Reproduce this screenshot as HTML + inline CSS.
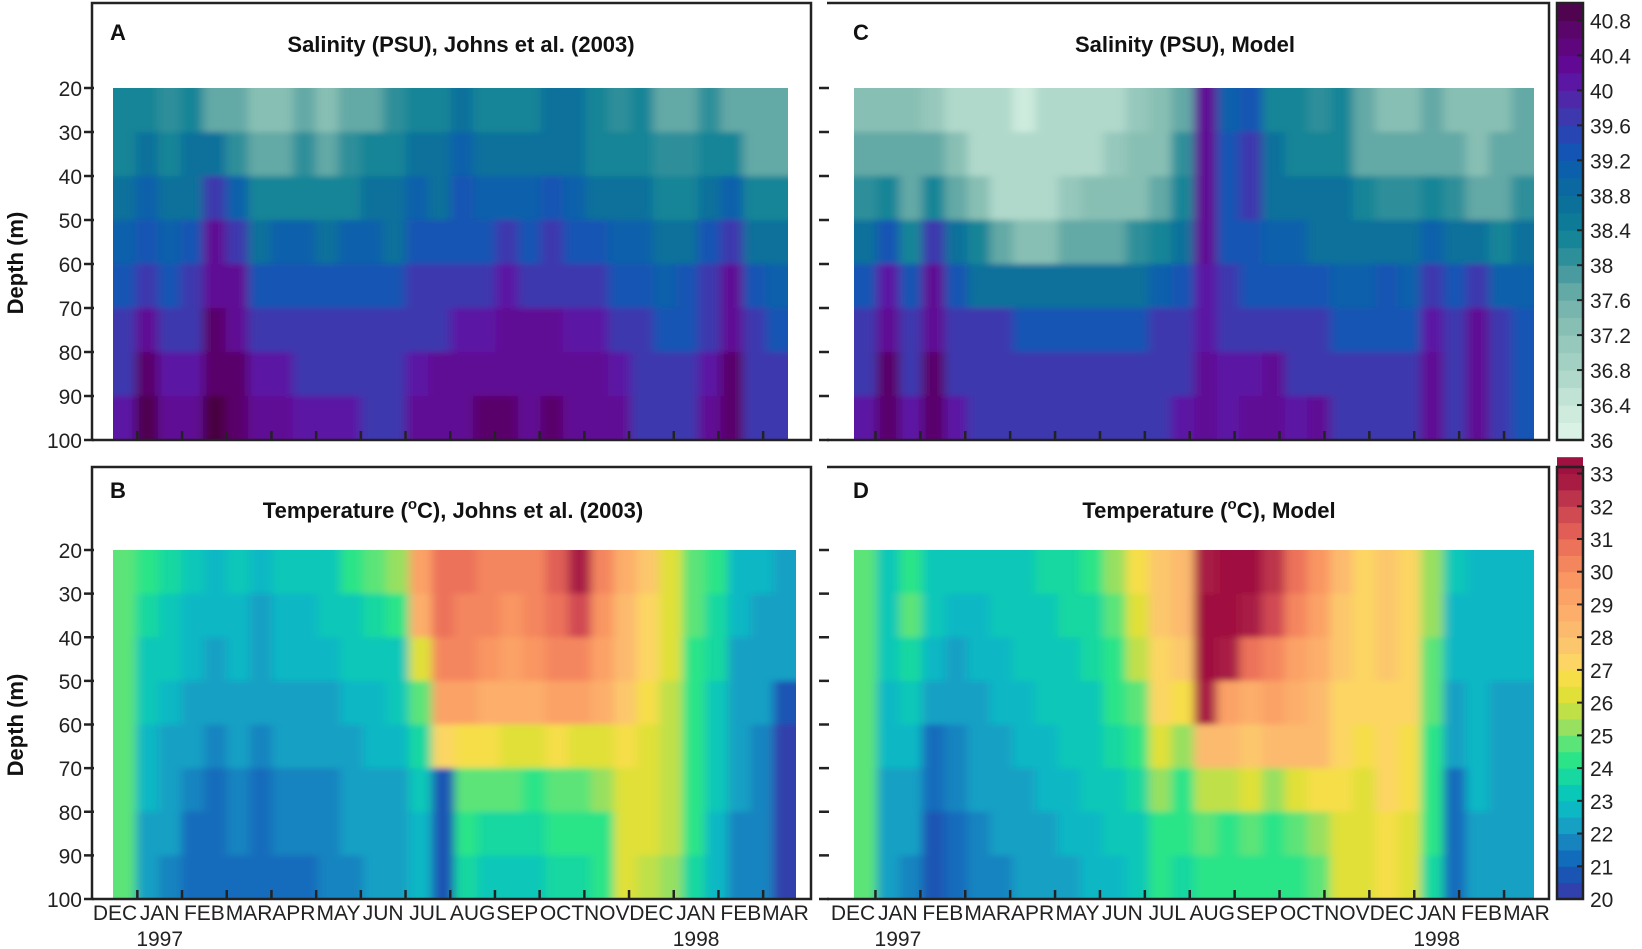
<!DOCTYPE html>
<html><head><meta charset="utf-8">
<style>
body{margin:0;background:#fff;}
svg{display:block;font-family:"Liberation Sans",sans-serif;}
.tk{font-size:21px;fill:#222;}
.ttl{font-size:22px;font-weight:bold;fill:#111;}
</style></head>
<body>
<svg id="fig" width="1642" height="949" viewBox="0 0 1642 949">
<defs>
<filter id="bl" x="-5%" y="-5%" width="110%" height="110%"><feGaussianBlur stdDeviation="5 3"/></filter>
<clipPath id="cA"><rect x="113" y="88" width="675" height="352"/></clipPath>
<clipPath id="cC"><rect x="854" y="88" width="680" height="352"/></clipPath>
<clipPath id="cB"><rect x="113" y="550" width="683" height="349"/></clipPath>
<clipPath id="cD"><rect x="854" y="550" width="680" height="349"/></clipPath>
</defs>
</svg>
<script>
const depths=[25,35,45,55,65,75,85,95];
const months=["DEC","JAN","FEB","MAR","APR","MAY","JUN","JUL","AUG","SEP","OCT","NOV","DEC","JAN","FEB","MAR"];
const depthTicks=[20,30,40,50,60,70,80,90,100];
const salTicks=[36,36.4,36.8,37.2,37.6,38,38.4,38.8,39.2,39.6,40,40.4,40.8];
const tempTicks=[20,21,22,23,24,25,26,27,28,29,30,31,32,33];
const salA=[
[38.2,38.4,38.0,38.2,37.8,37.6,37.4,37.4,37.6,37.4,37.6,37.8,38.0,38.4,38.2,38.6,38.4,38.4,38.4,38.6,38.6,38.2,38.0,38.2,37.8,37.8,38.0,37.8,37.6,37.6],
[38.4,38.8,38.2,38.6,38.8,38.0,37.8,37.8,38.0,37.8,38.0,38.2,38.2,38.8,38.6,39.0,38.6,38.6,38.6,38.8,38.6,38.4,38.2,38.4,38.0,38.0,38.2,38.4,37.8,37.8],
[38.6,39.0,38.8,38.8,39.6,39.0,38.2,38.4,38.4,38.4,38.4,38.6,38.6,39.0,38.8,39.2,39.0,39.0,39.0,39.2,39.0,38.8,38.6,38.8,38.4,38.4,38.8,39.0,38.4,38.2],
[39.0,39.4,39.0,39.2,40.2,39.6,38.8,39.0,39.0,38.8,39.0,39.0,38.8,39.2,39.2,39.4,39.4,39.6,39.4,39.6,39.4,39.2,39.0,39.0,38.8,38.8,39.2,39.8,38.8,38.6],
[39.4,39.8,39.4,39.6,40.4,40.2,39.4,39.4,39.4,39.2,39.4,39.4,39.4,39.6,39.6,39.8,39.8,40.0,39.8,39.8,39.6,39.6,39.4,39.4,39.0,39.2,39.6,40.2,39.2,39.0],
[39.6,40.2,39.8,39.8,40.6,40.4,39.8,39.8,39.6,39.6,39.6,39.6,39.6,39.8,39.8,40.0,40.0,40.2,40.2,40.2,40.0,40.0,39.8,39.6,39.4,39.4,39.8,40.4,39.6,39.4],
[39.8,40.6,40.0,40.0,40.8,40.6,40.0,40.0,39.8,39.8,39.8,39.6,39.6,40.0,40.2,40.2,40.4,40.4,40.4,40.4,40.4,40.2,40.0,39.8,39.6,39.6,40.0,40.6,39.8,39.6],
[40.0,40.9,40.2,40.2,41.0,40.8,40.2,40.2,40.0,40.0,40.0,39.8,39.8,40.2,40.2,40.4,40.6,40.6,40.4,40.6,40.4,40.4,40.2,39.8,39.8,39.8,40.2,40.8,39.8,39.6]];
const salC=[
[37.4,37.2,37.4,37.0,36.8,36.6,36.6,36.4,36.6,36.6,36.6,36.8,37.0,37.2,37.8,40.2,39.0,39.4,38.4,38.2,38.0,38.2,37.6,37.4,37.4,37.6,37.4,37.2,37.4,37.6],
[37.6,37.6,37.6,37.6,37.2,36.8,36.6,36.6,36.6,36.8,36.8,37.0,37.2,37.4,38.0,40.2,39.2,39.8,38.6,38.4,38.2,38.4,37.8,37.6,37.6,37.8,37.6,37.4,37.6,37.8],
[38.0,38.2,37.8,38.4,37.8,37.2,36.8,36.8,36.8,37.0,37.2,37.2,37.4,37.8,38.4,40.2,39.4,39.6,38.8,38.6,38.6,38.6,38.2,38.0,38.0,38.4,38.0,37.8,37.8,38.0],
[38.6,39.2,38.4,39.6,38.6,38.2,37.6,37.4,37.4,37.6,37.8,37.8,38.0,38.4,38.8,40.2,39.4,39.4,39.0,39.0,38.8,38.8,38.6,38.6,38.6,39.0,38.6,38.6,38.4,38.6],
[39.2,40.0,39.2,40.2,39.4,38.8,38.6,38.6,38.6,38.6,38.6,38.6,38.8,39.0,39.2,40.0,39.6,39.4,39.2,39.2,39.2,39.0,39.0,39.2,39.0,39.6,39.4,39.6,39.0,39.0],
[39.6,40.4,39.6,40.4,39.8,39.6,39.6,39.4,39.4,39.4,39.4,39.4,39.4,39.6,39.8,40.0,39.8,39.8,39.6,39.6,39.6,39.4,39.4,39.4,39.4,40.0,39.6,40.2,39.6,39.4],
[39.8,40.6,39.8,40.6,39.8,39.8,39.6,39.6,39.6,39.6,39.6,39.6,39.6,39.8,39.8,40.2,40.0,40.0,40.2,39.8,39.8,39.8,39.6,39.6,39.6,40.2,39.6,40.4,39.6,39.4],
[40.0,40.6,40.0,40.8,40.0,39.8,39.6,39.8,39.6,39.6,39.6,39.8,39.6,39.8,40.0,40.2,40.0,40.2,40.2,40.0,40.2,39.8,39.8,39.6,39.8,40.2,39.6,40.4,39.6,39.4]];
const tempB=[
[24.5,24.0,23.5,23.0,22.8,23.0,22.6,23.0,23.0,23.2,24.0,24.6,25.0,29.0,30.8,30.5,30.2,30.0,30.4,31.0,32.5,30.0,28.5,27.5,26.2,24.5,24.0,22.8,22.6,22.4],
[24.5,23.8,23.2,22.8,22.6,22.8,22.4,22.8,22.8,23.0,23.4,23.6,24.0,28.5,30.6,30.4,30.0,29.8,30.0,30.6,31.5,29.5,28.2,27.4,26.2,24.5,23.8,22.6,22.4,22.2],
[24.5,23.4,23.0,22.6,22.4,22.6,22.2,22.6,22.6,22.8,23.0,23.2,23.4,26.0,30.0,30.0,29.6,29.4,29.6,30.0,30.2,29.0,28.0,27.0,26.0,24.4,23.6,22.4,22.2,22.0],
[24.5,23.0,22.6,22.2,22.0,22.2,22.0,22.2,22.4,22.4,22.6,22.8,23.0,24.5,29.0,29.2,28.8,28.6,28.8,29.0,29.0,28.6,27.6,26.8,25.8,24.2,23.4,22.2,22.0,20.5],
[24.5,22.8,22.4,22.0,21.8,22.0,21.8,22.0,22.2,22.0,22.4,22.6,22.6,23.6,27.0,26.5,26.8,26.4,26.2,26.6,26.4,26.4,26.8,26.4,25.8,24.2,23.2,22.0,21.8,20.3],
[24.5,22.6,22.2,21.6,21.4,21.8,21.4,21.8,21.8,21.8,22.2,22.4,22.4,23.2,20.8,24.8,24.6,24.6,24.2,24.8,24.6,25.0,26.4,26.2,25.6,24.0,23.0,22.0,21.8,20.2],
[24.5,22.4,22.0,21.4,21.2,21.6,21.2,21.6,21.6,21.6,22.0,22.2,22.4,22.8,20.6,24.0,23.8,23.8,23.6,24.2,24.0,24.4,26.2,26.0,25.5,24.0,22.8,21.8,21.8,20.2],
[24.5,22.2,21.8,21.2,21.0,21.4,21.0,21.4,21.4,21.6,21.8,22.0,22.2,22.6,20.5,23.6,23.4,23.4,23.2,23.8,23.6,24.0,26.0,25.8,25.4,23.8,22.6,21.8,21.6,20.2]];
const tempD=[
[24.8,23.4,24.2,23.2,23.0,23.0,23.2,23.4,23.6,23.8,24.0,25.2,26.5,27.6,28.0,32.5,33.2,33.2,32.0,30.5,29.5,28.0,27.4,27.8,27.2,25.0,23.0,22.6,22.6,22.6],
[24.8,23.2,24.6,23.0,22.8,22.8,23.0,23.2,23.4,23.6,23.8,24.8,26.0,27.8,28.0,33.0,33.2,32.8,31.5,30.0,29.2,27.8,27.4,27.8,27.2,25.0,22.8,22.6,22.6,22.6],
[24.8,23.0,23.8,22.6,22.4,22.6,22.8,23.0,23.2,23.4,23.6,24.4,25.5,27.4,27.6,33.0,32.5,30.6,30.4,29.4,28.8,27.6,27.2,27.6,27.0,24.8,22.6,22.6,22.6,22.6],
[24.8,22.8,23.2,22.2,22.0,22.4,22.6,22.8,23.0,23.2,23.4,24.0,24.8,27.0,26.8,32.8,29.4,28.8,29.0,28.6,28.4,27.4,27.0,27.4,27.0,24.6,22.4,22.6,22.4,22.4],
[24.8,22.6,22.6,21.4,21.8,22.2,22.4,22.6,22.8,23.0,23.2,23.6,24.2,26.4,25.4,28.4,28.0,27.8,28.0,28.0,28.0,27.2,26.8,27.2,26.8,24.4,22.0,22.6,22.4,22.4],
[24.8,22.4,22.2,21.0,21.6,22.0,22.2,22.4,22.6,22.8,23.0,23.4,23.8,25.2,24.4,25.6,25.8,26.0,25.4,26.2,26.6,26.8,26.4,27.0,26.6,24.2,21.4,22.6,22.4,22.4],
[24.8,22.2,22.0,20.8,21.4,21.8,22.0,22.2,22.4,22.6,22.8,23.0,23.4,24.4,24.0,24.6,24.4,24.6,24.2,24.8,25.2,26.2,26.2,26.8,26.4,24.0,21.2,22.4,22.4,22.4],
[24.8,22.0,21.8,20.6,21.2,21.6,21.8,22.0,22.2,22.4,22.6,22.8,23.2,24.0,23.6,24.2,24.0,24.2,24.0,24.4,24.8,26.0,26.0,26.6,26.2,23.8,21.0,22.4,22.4,22.4]];

const NS='http://www.w3.org/2000/svg';
const svg=document.getElementById('fig');
function mk(tag,attrs,parent,text){const e=document.createElementNS(NS,tag);for(const k in attrs)e.setAttribute(k,attrs[k]);if(text!==undefined)e.textContent=text;(parent||svg).appendChild(e);return e;}
function hex(h){return [parseInt(h.slice(1,3),16),parseInt(h.slice(3,5),16),parseInt(h.slice(5,7),16)];}
const salStops=[[36,'#e0f5ea'],[36.4,'#c8e8da'],[36.8,'#a8d4c6'],[37.2,'#90c4b8'],[37.6,'#70b0aa'],[38,'#3c949c'],[38.2,'#1e8a98'],[38.4,'#0e8096'],[38.8,'#0a6c9c'],[39.2,'#0d5cb0'],[39.4,'#1a4cb8'],[39.6,'#3440b0'],[40,'#5820a8'],[40.2,'#600ca0'],[40.4,'#62078a'],[40.8,'#580560'],[41,'#48033f']];
const tmpStops=[[20,'#3a35a8'],[21,'#1060b8'],[21.5,'#1478c0'],[22,'#1a90c0'],[22.5,'#10b0c8'],[23,'#06c0c0'],[23.5,'#0ed0b0'],[24,'#20e090'],[24.5,'#38e880'],[25,'#7ee070'],[25.5,'#b0e050'],[26,'#d0e040'],[26.5,'#f0e030'],[27,'#fcdc60'],[28,'#fcc070'],[29,'#fca868'],[30,'#f89060'],[31,'#e86858'],[32,'#c84050'],[32.5,'#b02848'],[33,'#a01040']];
function cmap(stops,v){if(v<=stops[0][0])return stops[0][1];for(let i=1;i<stops.length;i++){if(v<=stops[i][0]){const t=(v-stops[i-1][0])/(stops[i][0]-stops[i-1][0]);const a=hex(stops[i-1][1]),b=hex(stops[i][1]);return 'rgb('+a.map((x,j)=>Math.round(x+(b[j]-x)*t)).join(',')+')';}}return stops[stops.length-1][1];}
function salColor(v){const q=Math.floor(v/0.2)*0.2+0.1;return cmap(salStops,q);}
function tmpColor(v){const q=Math.floor(v/0.5)*0.5+0.25;return cmap(tmpStops,q);}

function panel(id,data,colorFn,x0,x1,y0,y1,clip){
  const nC=data[0].length;
  const xs=c=>x0+(x1-x0)*c/nC;
  const ys=d=>y0+(y1-y0)*(d-20)/80;
  const outer=mk('g',{'clip-path':'url(#'+clip+')'});
  
  
  const g=mk('g',{filter:'url(#bl)'},outer);
  data.forEach((row,r)=>{row.forEach((v,c)=>{
    const d=depths[r];
    let ya=ys(d-5),yb=ys(d+5);
    if(r===0)ya-=12; if(r===data.length-1)yb+=12;
    let xa=xs(c),xb=xs(c+1);
    if(c===0)xa-=14; if(c===nC-1)xb+=14;
    const cell=mk('rect',{x:xa,y:ya,width:xb-xa+0.6,height:yb-ya+0.6,fill:colorFn(v)},g);
    
    
  });});
}
panel('panel-a',salA,salColor,113,788,88,440,'cA');
panel('panel-c',salC,salColor,854,1534,88,440,'cC');
panel('panel-b',tempB,tmpColor,113,796,550,899,'cB');
panel('panel-d',tempD,tmpColor,854,1534,550,899,'cD');

const st={stroke:'#222','stroke-width':2.5,fill:'none'};
function frame(name,pts){const p=mk('polyline',Object.assign({points:pts},st));}
frame('panel-a-frame','92,440 92,3 811,3 811,440 92,440');
frame('panel-b-frame','92,899 92,467 811,467 811,899 92,899');
frame('panel-c-frame','827,440 1549,440 1549,3 827,3');
frame('panel-d-frame','827,899 1549,899 1549,467 827,467');

function yAxis(prefix,xAx,y0,y1,labels){
  depthTicks.forEach(d=>{const y=y0+(y1-y0)*(d-20)/80;
    mk('line',{x1:xAx-8,x2:xAx+2,y1:y,y2:y,stroke:'#222','stroke-width':2.5});
    if(labels){const t=mk('text',{x:xAx-10,y:y+8,'text-anchor':'end',class:'tk'},svg,String(d));
      }
  });
}
yAxis('panel-a',92,88,440,true);yAxis('panel-b',92,550,899,true);
yAxis('panel-c',827,88,440,false);yAxis('panel-d',827,550,899,false);

function xAxis(prefix,lab0,step,yAx,labels){
  for(let i=0;i<15;i++){const x=lab0+step*(i+0.5);
    mk('line',{x1:x,x2:x,y1:yAx-9,y2:yAx,stroke:'#222','stroke-width':2.5});}
  if(labels){months.forEach((m,i)=>{const t=mk('text',{x:lab0+step*i,y:yAx+21,'text-anchor':'middle',class:'tk'},svg,m);
    });
    const y1=mk('text',{x:lab0+step,y:yAx+47,'text-anchor':'middle',class:'tk'},svg,'1997');
    
    const y2=mk('text',{x:lab0+step*13,y:yAx+47,'text-anchor':'middle',class:'tk'},svg,'1998');
    }
}
xAxis('panel-a',115,44.7,440,false);xAxis('panel-b',115,44.7,899,true);
xAxis('panel-c',853,44.9,440,false);xAxis('panel-d',853,44.9,899,true);

function label(txt,x,y,name,cls,anchor){const t=mk('text',{x:x,y:y,class:cls,'text-anchor':anchor||'middle'},svg,txt);return t;}
label('A',110,40,'panel-a-letter','ttl','start');
label('C',853,40,'panel-c-letter','ttl','start');
label('B',110,498,'panel-b-letter','ttl','start');
label('D',853,498,'panel-d-letter','ttl','start');
label('Salinity (PSU), Johns et al. (2003)',461,52,'panel-a-title','ttl');
label('Salinity (PSU), Model',1185,52,'panel-c-title','ttl');
function tempTitle(x,rest,name){const t=mk('text',{x:x,y:518,class:'ttl','text-anchor':'middle'});
  
  mk('tspan',{},t,'Temperature (');mk('tspan',{dy:-9,'font-size':15},t,'o');mk('tspan',{dy:9},t,'C)'+rest);}
tempTitle(453,', Johns et al. (2003)','panel-b-title');
tempTitle(1209,', Model','panel-d-title');
['Depth (m)','Depth (m)'].forEach((s,i)=>{const cy=i?725:263;const t=mk('text',{x:0,y:0,class:'ttl','text-anchor':'middle',transform:'translate(23,'+cy+') rotate(-90)','font-size':24},svg,s);
  });

function colorbar(name,ticks,vmin,vmax,y0,y1,stepv,colorFn,fmt){
  const ys=v=>y0-(v-vmin)*(y0-y1)/(vmax-vmin);
  for(let v=vmin;v<vmax-1e-6;v+=stepv){const r=mk('rect',{x:1557,y:ys(v+stepv),width:26,height:ys(v)-ys(v+stepv)+0.5,fill:colorFn(v+stepv/2)});
    }
  mk('rect',{x:1557,y:y1,width:26,height:y0-y1,fill:'none',stroke:'#222','stroke-width':2.5});
  ticks.forEach(v=>{const y=ys(v);mk('line',{x1:1577,x2:1583,y1:y,y2:y,stroke:'#222','stroke-width':2});
    const t=mk('text',{x:1590,y:y+8,class:'tk','text-anchor':'start'},svg,fmt(v));});
}
colorbar('salinity-colorbar',salTicks,36,41,440,3,0.2,salColor,v=>String(Math.round(v*10)/10));
colorbar('temperature-colorbar',tempTicks,20,33.2,899,467,0.5,tmpColor,v=>String(v));
</script>
</body></html>
